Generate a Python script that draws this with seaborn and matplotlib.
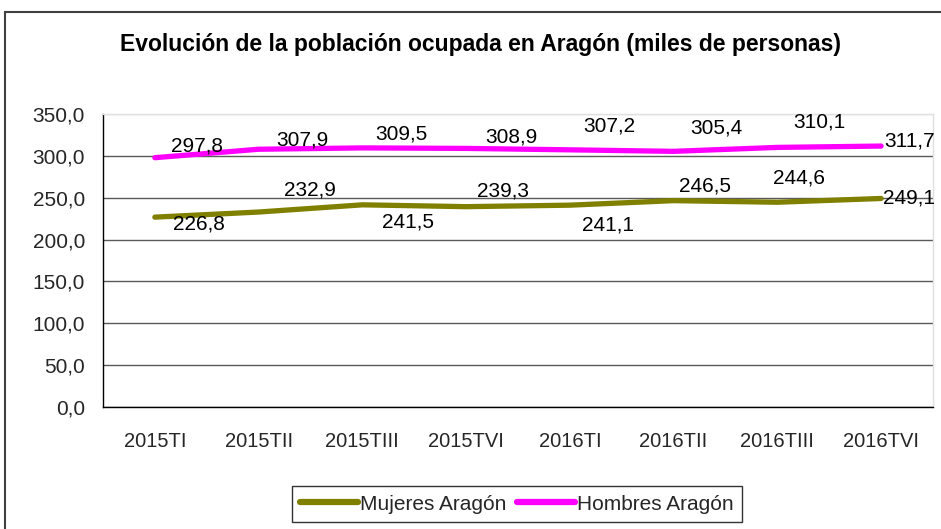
import numpy as np
import pandas as pd
import matplotlib
matplotlib.use("Agg")
import matplotlib.pyplot as plt
import matplotlib.patches as mpatches
import seaborn as sns

# datos
TRIMESTRES = ["2015TI", "2015TII", "2015TIII", "2015TVI",
              "2016TI", "2016TII", "2016TIII", "2016TVI"]
MUJERES = [226.8, 232.9, 241.5, 239.3, 241.1, 246.5, 244.6, 249.1]
HOMBRES = [297.8, 307.9, 309.5, 308.9, 307.2, 305.4, 310.1, 311.7]
SERIES = ["Mujeres Aragón", "Hombres Aragón"]
COLORES = ["#808000", "#FF00FF"]
TITULO = "Evolución de la población ocupada en Aragón (miles de personas)"
Y_TICKS = [0, 50, 100, 150, 200, 250, 300, 350]

# desplazamiento de las etiquetas (pixeles) respecto al punto
OFF_MUJERES = [(44, -7), (51, 22), (46, -17), (37, 16), (38, -20), (31, 15), (22, 24), (28, 0)]
OFF_HOMBRES = [(42, 12), (44, 9), (39, 14), (45, 11), (39, 24), (43, 23), (42, 25), (28, 5)]

df = pd.DataFrame({
    "trimestre": TRIMESTRES * 2,
    "valor": MUJERES + HOMBRES,
    "serie": [SERIES[0]] * len(MUJERES) + [SERIES[1]] * len(HOMBRES),
})

sns.set_style("white")
plt.rcParams["font.family"] = ["Liberation Sans", "DejaVu Sans"]

fig = plt.figure(figsize=(9.41, 5.29), dpi=100)
W, H = 941, 529
ax = fig.add_axes([103 / W, 122 / H, (933 - 103) / W, (407 - 114) / H])

sns.lineplot(data=df, x="trimestre", y="valor", hue="serie", palette=COLORES,
             linewidth=3.8, sort=False, ax=ax, solid_capstyle="round")

# etiquetas de datos
for vals, offs in [(MUJERES, OFF_MUJERES), (HOMBRES, OFF_HOMBRES)]:
    for i, (v, o) in enumerate(zip(vals, offs)):
        ax.annotate(f"{v:.1f}".replace(".", ","), xy=(i, v), xytext=o,
                    textcoords="offset pixels", ha="center", va="center",
                    fontsize=15, color="black", zorder=5)

# ejes
ax.set_xlim(-0.5, len(TRIMESTRES) - 0.5)
ax.set_ylim(0, 350)
ax.set_xlabel("")
ax.set_ylabel("")
ax.set_yticks(Y_TICKS)
ax.set_yticklabels([f"{t:.1f}".replace(".", ",") for t in Y_TICKS], fontsize=15)
ax.set_xticks(np.arange(-0.5, len(TRIMESTRES)), labels=[""] * (len(TRIMESTRES) + 1))
ax.set_xticks(np.arange(len(TRIMESTRES)), labels=TRIMESTRES, minor=True)
ax.tick_params(axis="x", which="major", direction="out", length=5, width=1, color="black")
ax.tick_params(axis="x", which="minor", length=0, pad=18, labelsize=14.5)
ax.tick_params(axis="y", direction="out", length=5, width=1, color="black", pad=8)
ax.yaxis.grid(True, color="#5a5a5a", linewidth=1)
ax.set_axisbelow(True)
ax.yaxis.get_gridlines()[-1].set_color("#e0e0e0")
for s in ["left", "bottom"]:
    ax.spines[s].set_color("black")
    ax.spines[s].set_linewidth(1)
for s in ["top", "right"]:
    ax.spines[s].set_color("#e0e0e0")
    ax.spines[s].set_linewidth(1)

# leyenda
handles, labels = ax.get_legend_handles_labels()
ax.get_legend().remove()
leg = fig.legend(handles, labels, loc="center", ncol=2,
                 bbox_to_anchor=(517 / W, 1 - 504 / H), fontsize=15,
                 frameon=True, fancybox=False, edgecolor="black",
                 handlelength=2.8, handletextpad=0.1, columnspacing=0.5,
                 borderpad=0.4)
leg.get_frame().set_linewidth(1)
for h in leg.get_lines():
    h.set_linewidth(4.5)
    h.set_solid_capstyle("round")

# titulo
fig.text(480 / W, 1 - 45 / H, TITULO, ha="center", va="center",
         fontsize=16.5, fontweight="bold", color="black")

# borde del grafico
fig.patches.append(mpatches.Rectangle((5 / W, -0.1), 1.2, 1.1 - 12 / H,
                                      transform=fig.transFigure, fill=False,
                                      edgecolor="#404040", linewidth=1.5))

plt.savefig("out.png", dpi=100)
